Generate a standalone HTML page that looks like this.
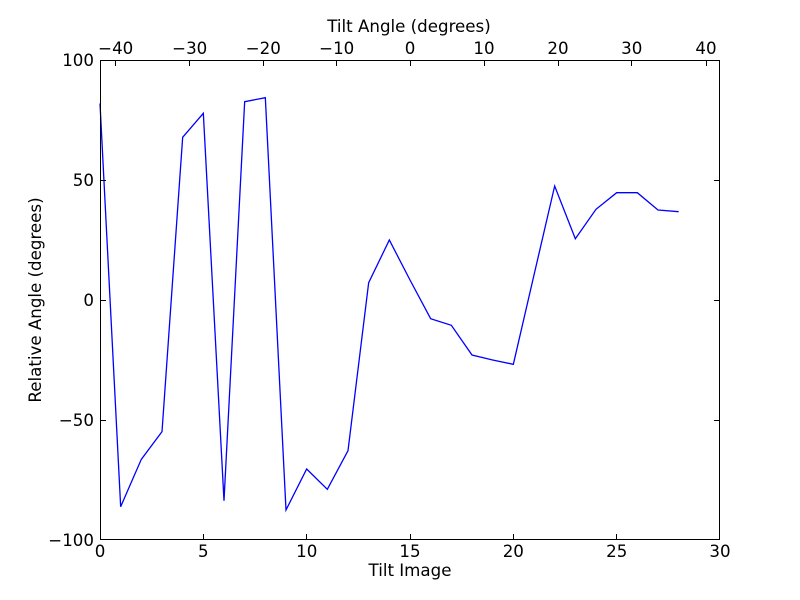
<!DOCTYPE html>
<html><head><meta charset="utf-8"><style>
html,body{margin:0;padding:0;background:#fff;}
svg{display:block;}
text{font-family:"DejaVu Sans","Liberation Sans",sans-serif;font-size:16.67px;fill:#000;}
</style></head><body>
<svg width="800" height="600" viewBox="0 0 800 600" xmlns="http://www.w3.org/2000/svg">
<rect width="800" height="600" fill="#fff"/>
<polyline fill="none" stroke="#0000ff" stroke-width="1.3" stroke-linejoin="miter" points="100,103.5 120.67,506.7 141.33,459.3 162,431.7 182.67,137.3 203.33,113.3 224,500.7 244.67,101.7 265.33,97.7 286,510 306.67,469 327.33,489.3 348,450.7 368.67,282.7 389.33,240 410,280 430.67,318.7 451.33,325.3 472,355 492.67,360 513.33,364.3 534,275 554.67,186 575.33,238.7 596,209.3 616.67,192.7 637.33,192.7 658,210 678.67,211.7"/>
<rect x="100.5" y="60.5" width="619" height="479" fill="none" stroke="#000" stroke-width="1"/>
<g stroke="#000" stroke-width="1">
<path d="M100,60.5H106M100,180.5H106M100,300.5H106M100,420.5H106M100,539.5H106"/>
<path d="M714,60.5H720M714,180.5H720M714,300.5H720M714,420.5H720M714,539.5H720"/>
<path d="M100.5,540V534M203.5,540V534M306.5,540V534M410.5,540V534M513.5,540V534M616.5,540V534M719.5,540V534"/>
<path d="M115.5,60V66M189.5,60V66M263.5,60V66M336.5,60V66M410.5,60V66M484.5,60V66M558.5,60V66M631.5,60V66M706.5,60V66"/>
</g>
<g text-anchor="end">
<text x="94" y="66">100</text>
<text x="94" y="186">50</text>
<text x="94" y="306">0</text>
<text x="94" y="426">−50</text>
<text x="94" y="546">−100</text>
</g>
<g text-anchor="middle">
<text x="100" y="557">0</text>
<text x="203.3" y="557">5</text>
<text x="306.7" y="557">10</text>
<text x="410" y="557">15</text>
<text x="513.3" y="557">20</text>
<text x="616.7" y="557">25</text>
<text x="720" y="557">30</text>
<text x="115.7" y="54">−40</text>
<text x="189.7" y="54">−30</text>
<text x="263.3" y="54">−20</text>
<text x="336.7" y="54">−10</text>
<text x="410" y="54">0</text>
<text x="484" y="54">10</text>
<text x="558" y="54">20</text>
<text x="631.7" y="54">30</text>
<text x="706" y="54">40</text>
<text x="409" y="32">Tilt Angle (degrees)</text>
<text x="410" y="576">Tilt Image</text>
<text transform="translate(41,300) rotate(-90)">Relative Angle (degrees)</text>
</g>
</svg>
</body></html>
